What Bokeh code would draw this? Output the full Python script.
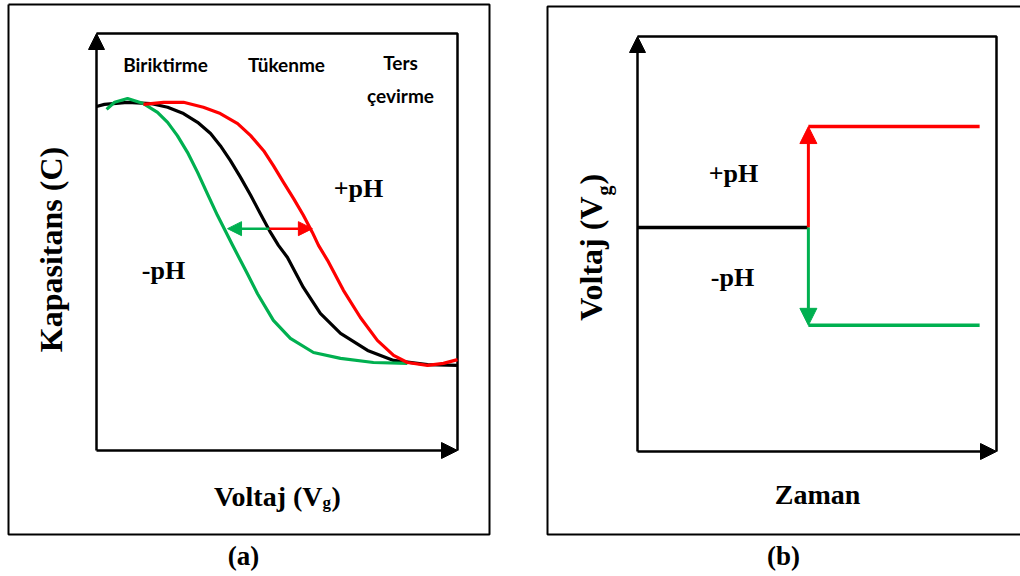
import numpy as np
from bokeh.plotting import figure
from bokeh.layouts import row
from bokeh.models import Range1d, Arrow, NormalHead
from bokeh.core.properties import value
from bokeh.embed import file_html
from bokeh.resources import INLINE

# ---------------- data: panel (a) C-V curves (Voltaj 0..10, Kapasitans 0..1) ----------------
black_v = [0.00, 0.22, 0.86, 1.50, 1.97, 2.41, 2.80, 3.16, 3.43, 3.71, 3.99, 4.27, 4.54, 4.82,
           5.04, 5.29, 5.73, 6.20, 6.76, 7.51, 8.23, 9.17, 10.0]
black_c = [0.825, 0.830, 0.835, 0.832, 0.823, 0.808, 0.787, 0.760, 0.731, 0.695, 0.655, 0.612,
           0.568, 0.523, 0.492, 0.463, 0.391, 0.329, 0.281, 0.240, 0.216, 0.206, 0.204]

green_v = [0.28, 0.50, 0.86, 1.30, 1.69, 1.97, 2.24, 2.52, 2.80, 3.07, 3.35, 3.63, 3.77, 4.18,
           4.46, 4.90, 5.37, 6.01, 6.76, 7.67, 8.61]
green_c = [0.818, 0.835, 0.844, 0.832, 0.811, 0.787, 0.755, 0.715, 0.667, 0.616, 0.564, 0.516,
           0.492, 0.424, 0.376, 0.312, 0.269, 0.235, 0.221, 0.211, 0.209]

red_v = [1.30, 1.86, 2.41, 2.96, 3.43, 3.91, 4.27, 4.63, 4.90, 5.18, 5.46, 5.73, 5.98, 6.15,
         6.40, 6.84, 7.31, 7.78, 8.23, 8.61, 9.17, 9.61, 10.0]
red_c = [0.830, 0.835, 0.835, 0.823, 0.808, 0.784, 0.755, 0.719, 0.683, 0.643, 0.604, 0.564,
         0.523, 0.492, 0.456, 0.384, 0.319, 0.264, 0.228, 0.211, 0.204, 0.209, 0.218]

shift_level = 0.532      # C level of the shift arrows
shift_mid = 4.79         # start of both arrows (on black curve)
shift_minus = 3.63       # -pH arrow tip
shift_plus = 5.98        # +pH arrow tip

region_labels = ["Biriktirme", "Tükenme", "Ters", "çevirme"]

# ---------------- data: panel (b) gate voltage steps (Zaman 0..10, Voltaj 0..1) ----------------
step_t = [0.0, 4.76, 9.53]   # start, switching time, end
v_base = 0.540
v_plus = 0.783
v_minus = 0.304

# ---------------- layout ----------------
H = 576
TOP = 0
SERIF = value("Liberation Serif")
SANS = value("Lato")
GREEN = "#00B050"
RED = "#FF0000"


def make_panel(width, canvas_left, x0_px, x_per, y0_px, y_per):
    xr = Range1d((canvas_left - x0_px) / x_per, (canvas_left + width - x0_px) / x_per)
    yr = Range1d((y0_px - (TOP + H)) / y_per, (y0_px - TOP) / y_per)
    p = figure(width=width, height=H, x_range=xr, y_range=yr, toolbar_location=None,
               output_backend="svg", x_axis_location=None, y_axis_location=None,
               min_border=0)
    p.grid.visible = False
    p.outline_line_color = None
    p.background_fill_color = "white"
    p.border_fill_color = "white"
    fx = lambda px: (px - x0_px) / x_per
    fy = lambda py: (y0_px - py) / y_per
    return p, fx, fy


def axes_box(p, xmax, ymax, head):
    p.add_layout(Arrow(end=NormalHead(size=head, fill_color="black", line_color="black"),
                       x_start=0, y_start=0, x_end=0, y_end=ymax,
                       line_width=2.5, line_color="black"))
    p.add_layout(Arrow(end=NormalHead(size=head, fill_color="black", line_color="black"),
                       x_start=0, y_start=0, x_end=xmax, y_end=0,
                       line_width=2.5, line_color="black"))
    p.line([0, xmax, xmax], [ymax, ymax, 0], line_color="black", line_width=2.5)


def txt(p, fx, fy, px, py, s, size, font=SERIF, align="center", rotated=False):
    # px, py: intended baseline anchor (pixels); compensate renderer's baseline offset
    off = 0.4 * size
    if rotated:
        px -= off
        angle = np.pi / 2
    else:
        py -= off
        angle = 0.0
    p.text(x=[fx(px)], y=[fy(py)], text=[s], text_font=font, text_font_style="bold",
           text_font_size=f"{size}px", text_align=align, text_baseline="alphabetic",
           angle=angle, text_color="black")


# ===== panel (a) =====
pa, ax, ay = make_panel(532, 0, 96, 36.1, 450, 417)
pa.line([ax(8), ax(489), ax(489), ax(8), ax(8)], [ay(4), ay(4), ay(534), ay(534), ay(4)],
        line_color="black", line_width=2)
axes_box(pa, 10, 1, 16)

pa.add_layout(Arrow(end=NormalHead(size=14, fill_color=GREEN, line_color=GREEN),
                    x_start=shift_mid, y_start=shift_level, x_end=shift_minus, y_end=shift_level,
                    line_width=2.5, line_color=GREEN))
pa.add_layout(Arrow(end=NormalHead(size=14, fill_color=RED, line_color=RED),
                    x_start=shift_mid, y_start=shift_level, x_end=shift_plus, y_end=shift_level,
                    line_width=2.5, line_color=RED))

pa.line(black_v, black_c, line_color="black", line_width=3.2, line_join="round")
pa.line(green_v, green_c, line_color=GREEN, line_width=3.2, line_join="round")
pa.line(red_v, red_c, line_color=RED, line_width=3.2, line_join="round")

txt(pa, ax, ay, 165, 72, region_labels[0], 19, font=SANS)
txt(pa, ax, ay, 286, 72, region_labels[1], 19, font=SANS)
txt(pa, ax, ay, 400, 70, region_labels[2], 19, font=SANS)
txt(pa, ax, ay, 400, 103, region_labels[3], 19, font=SANS)

txt(pa, ax, ay, 358, 198, "+pH", 26)
txt(pa, ax, ay, 163, 280, "-pH", 26)

txt(pa, ax, ay, 63, 249, "Kapasitans (C)", 32, rotated=True)

txt(pa, ax, ay, 322, 507, "Voltaj (V", 28, align="right")
txt(pa, ax, ay, 322, 509, "g", 17, align="left")
txt(pa, ax, ay, 331, 507, ")", 28, align="left")

txt(pa, ax, ay, 243, 566, "(a)", 27)

# ===== panel (b) =====
pb, bx, by = make_panel(488, 532, 637, 35.9, 451, 415)
pb.line([bx(1040), bx(547), bx(547), bx(1040)], [by(6), by(6), by(534), by(534)],
        line_color="black", line_width=2)
axes_box(pb, 10, 1, 16)

pb.line(step_t[:2], [v_base, v_base], line_color="black", line_width=3.5)
pb.add_layout(Arrow(end=NormalHead(size=17, fill_color=RED, line_color=RED),
                    x_start=step_t[1], y_start=v_base, x_end=step_t[1], y_end=v_plus,
                    line_width=3, line_color=RED))
pb.add_layout(Arrow(end=NormalHead(size=17, fill_color=GREEN, line_color=GREEN),
                    x_start=step_t[1], y_start=v_base, x_end=step_t[1], y_end=v_minus,
                    line_width=3, line_color=GREEN))
pb.line(step_t[1:], [v_plus, v_plus], line_color=RED, line_width=3.5)
pb.line(step_t[1:], [v_minus, v_minus], line_color=GREEN, line_width=3.5)

txt(pb, bx, by, 733, 183, "+pH", 26)
txt(pb, bx, by, 732, 287, "-pH", 26)

txt(pb, bx, by, 603, 196, "Voltaj (V", 32, align="right", rotated=True)
txt(pb, bx, by, 611, 195, "g", 20, align="left", rotated=True)
txt(pb, bx, by, 603, 184, ")", 32, align="left", rotated=True)

txt(pb, bx, by, 817, 505, "Zaman", 28)
txt(pb, bx, by, 783, 566, "(b)", 27)

layout = row(pa, pb)
open("out.html", "w").write(file_html(layout, INLINE))
